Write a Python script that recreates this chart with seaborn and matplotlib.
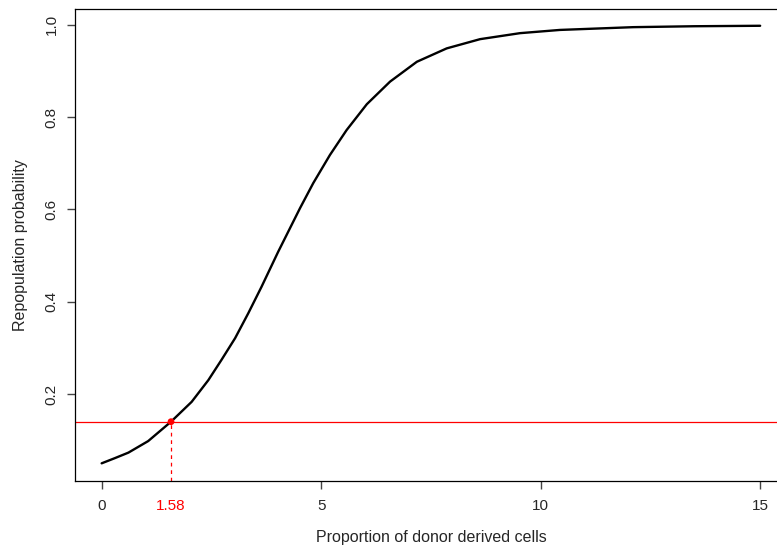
import numpy as np
import pandas as pd
import matplotlib
matplotlib.use("Agg")
import matplotlib.pyplot as plt
import seaborn as sns

# Values
donor_prop = [0.0, 0.30, 0.61, 1.06, 1.58, 2.05, 2.43, 2.73, 3.04, 3.34, 3.64,
              4.02, 4.52, 4.82, 5.20, 5.58, 6.04, 6.57, 7.18, 7.86, 8.62, 9.53,
              10.44, 12.11, 13.5, 15.0]
repop_prob = [0.0498, 0.061, 0.073, 0.098, 0.140, 0.183, 0.230, 0.274, 0.321,
              0.375, 0.432, 0.508, 0.603, 0.657, 0.718, 0.772, 0.828, 0.877,
              0.920, 0.949, 0.969, 0.982, 0.989, 0.995, 0.997, 0.998]
threshold_x = 1.58
threshold_y = 0.140
x_ticks = [0, 5, 10, 15]
y_ticks = [0.2, 0.4, 0.6, 0.8, 1.0]
y_tick_labels = ["0.2", "0.4", "0.6", "0.8", "1.0"]

df = pd.DataFrame({"x": donor_prop, "y": repop_prob})

sns.set_style("ticks")
plt.rcParams["font.family"] = ["Liberation Sans", "DejaVu Sans"]

fig = plt.figure(figsize=(7.77, 5.46), dpi=100)
ax = fig.add_axes([75.3 / 777, 1 - 481 / 546, (786.5 - 75.3) / 777, (481 - 8.7) / 546])

sns.lineplot(data=df, x="x", y="y", ax=ax, color="black", linewidth=1.7,
             estimator=None, sort=False)
ax.lines[0].set_solid_joinstyle("round")

xmin, xmax = -0.6, 15.6
ymin, ymax = 0.0115, 1.035
ax.set_xlim(xmin, xmax)
ax.set_ylim(ymin, ymax)

ax.axhline(threshold_y, color="red", linewidth=0.9)
ax.plot([threshold_x, threshold_x], [ymin, threshold_y], color="red",
        linestyle=(0, (3, 3)), linewidth=0.9)
ax.scatter([threshold_x], [threshold_y], color="red", s=24, zorder=5, edgecolors="none")

ax.set_xticks(x_ticks)
ax.set_xticklabels([str(t) for t in x_ticks])
ax.set_yticks(y_ticks)
ax.set_yticklabels(y_tick_labels, rotation=90, va="center")

ax.tick_params(axis="both", which="major", labelsize=11, length=6, width=1.0,
               color="#444444", direction="out")
ax.tick_params(axis="x", pad=7)
ax.tick_params(axis="y", pad=6)

ax.text(threshold_x, (481 - 506) / 472.3, "1.58", color="red", fontsize=11,
        ha="center", va="center", transform=ax.get_xaxis_transform())

for s in ax.spines.values():
    s.set_color("black")
    s.set_linewidth(0.9)

ax.set_xlabel("Proportion of donor derived cells", fontsize=11.5, labelpad=12)
ax.set_ylabel("Repopulation probability", fontsize=11.5, labelpad=12)

fig.savefig("out.png", dpi=100)
